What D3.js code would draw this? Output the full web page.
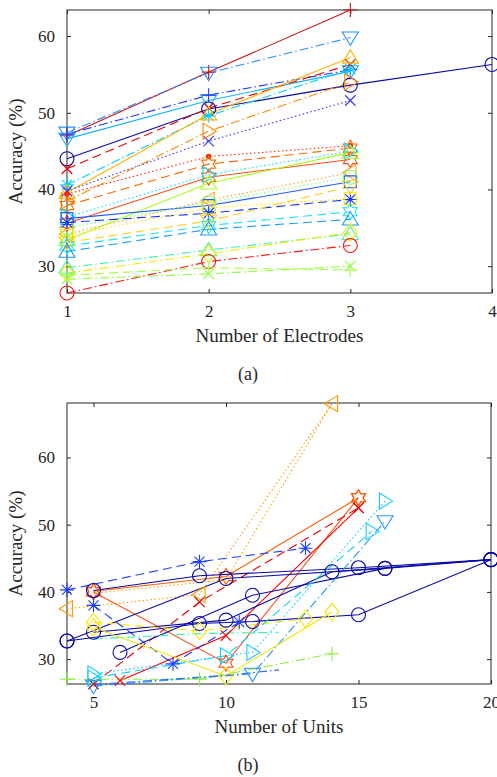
<!DOCTYPE html>
<html>
<head>
<meta charset="utf-8">
<script src="https://cdn.jsdelivr.net/npm/d3@7"></script>
<style>
body{margin:0;background:#fff;}
svg{display:block;}
text{font-family:"Liberation Serif","Times New Roman",serif;fill:#262626;}
</style>
</head>
<body>
<svg id="viz" width="497" height="777"></svg>
<script>
// ---- panel (a): accuracy vs number of electrodes (x = 1..n)
var elecTicks = [1, 2, 3, 4];
var accTicksA = [30, 40, 50, 60];
var elecAcc = [
	[47.0, 55.3, 63.4],
	[47.4, 55.2, 59.8],
	[46.6, 51.6, 55.4],
	[47.2, 52.3, 55.6],
	[44.0, 50.5, 53.6, 56.3],
	[42.7, 50.6, 56.3],
	[40.6, 49.6, 55.7],
	[39.6, 49.8, 57.2],
	[39.8, 46.3, 51.6],
	[38.5, 47.6, 54.0],
	[39.4, 44.3, 45.7],
	[37.9, 43.3, 45.4],
	[35.6, 41.6, 43.9],
	[36.4, 41.9, 45.0],
	[33.4, 40.8, 44.8],
	[34.2, 38.6, 42.2],
	[36.2, 37.9, 41.0],
	[35.0, 38.3, 41.6],
	[35.7, 36.9, 38.7],
	[34.0, 37.6, 38.8],
	[33.1, 35.9, 40.4],
	[32.6, 35.3, 37.1],
	[31.9, 34.8, 36.1],
	[29.8, 32.1, 34.2],
	[29.1, 31.6, 34.4],
	[26.5, 30.6, 32.7],
	[28.3, 29.0, 30.0],
	[28.8, 29.8, 29.5]
];
var elecColors = ["#c81414","#2a8cff","#10b4ff","#2233ff","#0a0aa8","#e60000","#00d0ff","#ffb400",
	"#3434ff","#ff8a00","#ff2a00","#ff6a00","#ff4d1a","#00e4ff","#a6ff1a","#ffa01a","#1e5aff",
	"#7dff82","#1432ff","#ffe600","#ffd21a","#1ae6f0","#1a9cff","#40f5b4","#f5eb00","#ff1414",
	"#8cff3c","#a5ff50"];
var elecMarkers = ["+","v","v","+","o","x","*","^","x",">",".","h","h",">","^","<","s","o","*","s",
	"v","h","^","^","d","o","x","+"];
var elecDashes = ["-","-.","-","-.","-","--","-.","-",":","-.",":","--","-",":","-",":","-",":","--",":",
	"--","--","--","-.","-.","-.","-.","--"];

// ---- panel (b): accuracy vs number of units
var unitTicks = [5, 10, 15, 20];
var accTicksB = [30, 40, 50, 60];
var unitX = [
	[4, 9, 14],
	[5, 10, 14],
	[5, 10, 15],
	[5, 10, 15],
	[5, 9, 15],
	[6, 10, 15],
	[4, 9, 13],
	[5, 8, 10.5],
	[5, 9, 15, 20],
	[4, 9, 11, 15, 20],
	[5, 10, 14, 20],
	[6, 11, 16, 20],
	[4, 10, 16],
	[5, 11, 16],
	[5, 11, 16],
	[5, 10, 14],
	[5, 9, 13],
	[5, 9, 12],
	[4, 9, 14],
	[5, 10, 12],
	[5, 10, 15.5]
];
var unitAcc = [
	[37.5, 39.6, 68.0],
	[39.8, 41.8, 68.0],
	[40.0, 29.4, 54.0],
	[40.1, 42.3, 54.0],
	[26.3, 38.5, 52.5],
	[26.8, 33.5, 52.5],
	[40.3, 44.5, 46.5],
	[38.0, 29.3, 35.5],
	[40.2, 42.4, 43.6, 44.8],
	[32.7, 35.3, 35.6, 36.6, 44.8],
	[34.0, 35.8, 43.0, 44.8],
	[31.0, 39.5, 43.5, 44.8],
	[32.7, 42.0, 43.5],
	[27.8, 31.0, 53.5],
	[26.0, 27.8, 50.5],
	[34.7, 27.5, 37.0],
	[35.5, 34.2, 36.0],
	[33.0, 33.8, 34.0],
	[27.0, 27.0, 30.8],
	[26.2, 27.6, 28.4],
	[27.2, 30.5, 49.0]
];
var unitColors = ["#ff9a00","#ffa500","#ff4b14","#ff5a00","#e60000","#ff0000","#1e3cff","#1e3cff",
	"#0a0aa8","#0a0aa8","#0a0aa8","#0a0aa8","#0a0aa8","#14c8ff","#2896ff","#f0e600","#ffe600",
	"#3cf0b4","#8cf03c","#2a64ff","#14d2ff"];
var unitMarkers = ["<","","h","h","x","x","*","*","o","o","o","o","o","v","v","d","d","","+","",">"];
var unitDashes = [":",":","-","-","--","-","--","--","-","-","-","-","-",":","-.","-","--","-.","-.","-.","--"];
unitMarkers[13] = ">";

var svg = d3.select("#viz");

var dashMap = {"-": null, "--": "9,5", ":": "1.5,2.5", "-.": "9,3,1.5,3"};

function markerPath(type, s) {
	var p = d3.path(), i, a, r;
	if (type == "+") { p.moveTo(-s,0); p.lineTo(s,0); p.moveTo(0,-s); p.lineTo(0,s); }
	else if (type == "x") { r = s*0.75; p.moveTo(-r,-r); p.lineTo(r,r); p.moveTo(-r,r); p.lineTo(r,-r); }
	else if (type == "*") { r = s*0.72; p.moveTo(-s,0); p.lineTo(s,0); p.moveTo(0,-s); p.lineTo(0,s);
		p.moveTo(-r,-r); p.lineTo(r,r); p.moveTo(-r,r); p.lineTo(r,-r); }
	else if (type == "o") { p.moveTo(s,0); p.arc(0,0,s,0,2*Math.PI); }
	else if (type == "s") { r = s*0.85; p.rect(-r,-r,2*r,2*r); }
	else if (type == "d") { p.moveTo(0,-s*1.25); p.lineTo(s,0); p.lineTo(0,s*1.25); p.lineTo(-s,0); p.closePath(); }
	else if (type == "^") { p.moveTo(0,-s*1.1); p.lineTo(s*1.15,s*0.8); p.lineTo(-s*1.15,s*0.8); p.closePath(); }
	else if (type == "v") { p.moveTo(0,s*1.1); p.lineTo(s*1.15,-s*0.8); p.lineTo(-s*1.15,-s*0.8); p.closePath(); }
	else if (type == ">") { p.moveTo(s*1.1,0); p.lineTo(-s*0.8,s*1.15); p.lineTo(-s*0.8,-s*1.15); p.closePath(); }
	else if (type == "<") { p.moveTo(-s*1.1,0); p.lineTo(s*0.8,s*1.15); p.lineTo(s*0.8,-s*1.15); p.closePath(); }
	else if (type == "h") {
		for (i = 0; i < 12; i++) {
			a = -Math.PI/2 + i*Math.PI/6;
			r = (i % 2 == 0) ? s*1.15 : s*0.66;
			if (i == 0) p.moveTo(r*Math.cos(a), r*Math.sin(a)); else p.lineTo(r*Math.cos(a), r*Math.sin(a));
		}
		p.closePath();
	}
	return p.toString();
}

function drawPanel(box, xDomain, yDomain, xTicks, yTicks, xs, ys, colors, markers, dashes, xLabel, caption) {
	var x = d3.scaleLinear().domain(xDomain).range([box.left, box.right]);
	var y = d3.scaleLinear().domain(yDomain).range([box.bottom, box.top]);
	var g = svg.append("g");

	// frame and inward ticks on all four sides
	g.append("rect")
		.attr("x", box.left).attr("y", box.top)
		.attr("width", box.right - box.left).attr("height", box.bottom - box.top)
		.attr("fill", "none").attr("stroke", "#262626").attr("stroke-width", 1);
	g.append("g").attr("transform", "translate(0," + box.bottom + ")")
		.call(d3.axisBottom(x).tickValues(xTicks).tickSizeInner(-4).tickSizeOuter(0).tickPadding(12).tickFormat(d3.format("d")));
	g.append("g").attr("transform", "translate(0," + box.top + ")")
		.call(d3.axisTop(x).tickValues(xTicks).tickSizeInner(-4).tickSizeOuter(0).tickFormat(""));
	g.append("g").attr("transform", "translate(" + box.left + ",0)")
		.call(d3.axisLeft(y).tickValues(yTicks).tickSizeInner(-4).tickSizeOuter(0).tickPadding(12).tickFormat(d3.format("d")));
	g.append("g").attr("transform", "translate(" + box.right + ",0)")
		.call(d3.axisRight(y).tickValues(yTicks).tickSizeInner(-4).tickSizeOuter(0).tickFormat(""));
	g.selectAll(".domain").remove();
	g.selectAll(".tick line").attr("stroke", "#262626");
	g.selectAll(".tick text").attr("font-size", 17).attr("fill", "#262626")
		.style("font-family", "'Liberation Serif','Times New Roman',serif");

	var line = d3.line()
		.x(function(d) { return x(d[0]); })
		.y(function(d) { return y(d[1]); });

	var series = ys.map(function(vals, i) {
		return {pts: vals.map(function(v, j) { return [xs ? xs[i][j] : j + 1, v]; }),
			color: colors[i], marker: markers[i], dash: dashes[i]};
	});

	g.append("g").selectAll("path")
		.data(series).enter().append("path")
		.attr("d", function(d) { return line(d.pts); })
		.attr("fill", "none")
		.attr("stroke", function(d) { return d.color; })
		.attr("stroke-width", 1.1)
		.attr("stroke-dasharray", function(d) { return dashMap[d.dash]; });

	series.forEach(function(s) {
		if (!s.marker) return;
		g.append("g").selectAll("path")
			.data(s.pts).enter().append("path")
			.attr("transform", function(d) { return "translate(" + x(d[0]) + "," + y(d[1]) + ")"; })
			.attr("d", s.marker == "." ? d3.symbol().type(d3.symbolCircle).size(16)() : markerPath(s.marker, 7))
			.attr("fill", s.marker == "." ? s.color : "none")
			.attr("stroke", s.color)
			.attr("stroke-width", 1.1);
	});

	g.append("text")
		.attr("transform", "translate(22," + (box.top + box.bottom) / 2 + ") rotate(-90)")
		.attr("text-anchor", "middle")
		.attr("font-size", 19)
		.text("Accuracy (%)");
	g.append("text")
		.attr("x", (box.left + box.right) / 2).attr("y", box.bottom + 49)
		.attr("text-anchor", "middle").attr("font-size", 19)
		.text(xLabel);
	g.append("text")
		.attr("x", 248).attr("y", box.bottom + 87)
		.attr("text-anchor", "middle").attr("font-size", 18)
		.text(caption);
}

drawPanel({left: 67, right: 492, top: 10, bottom: 293}, [1, 4], [26.5, 63.4], elecTicks, accTicksA,
	null, elecAcc, elecColors, elecMarkers, elecDashes, "Number of Electrodes", "(a)");
drawPanel({left: 67, right: 491, top: 403, bottom: 684}, [4, 20], [26.3, 68.1], unitTicks, accTicksB,
	unitX, unitAcc, unitColors, unitMarkers, unitDashes, "Number of Units", "(b)");
</script>
</body>
</html>
